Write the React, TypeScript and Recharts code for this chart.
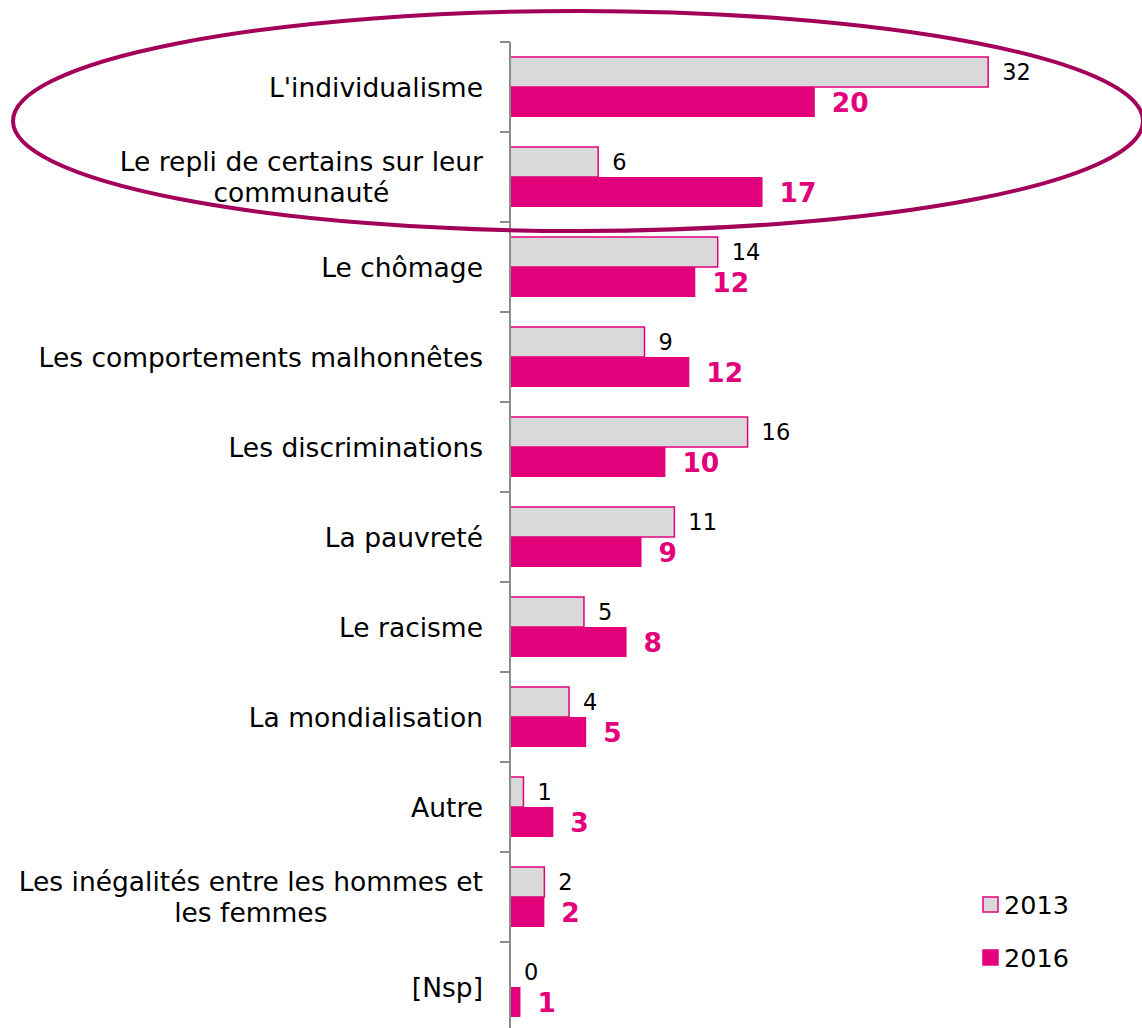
import React from "react";
import { Bar, BarChart, LabelList, XAxis, YAxis } from "recharts";

// Catégories (retour à la ligne comme dans l'original) et valeurs.
const CATEGORIES = [
  "L'individualisme",
  "Le repli de certains sur leur\ncommunauté",
  "Le chômage",
  "Les comportements malhonnêtes",
  "Les discriminations",
  "La pauvreté",
  "Le racisme",
  "La mondialisation",
  "Autre",
  "Les inégalités entre les hommes et\nles femmes",
  "[Nsp]",
];
const VALUES_2013 = [32, 5.9, 13.9, 9, 15.9, 11, 4.95, 3.95, 0.9, 2.3, 0];
const VALUES_2016 = [20.4, 16.9, 12.4, 12, 10.4, 8.8, 7.8, 5.1, 2.9, 2.3, 0.7];

const PINK = "#E3007B";
const GRAY = "#D9D9D9";
const AXIS = "#8C8C8C";
const RING = "#A3005A";
const FONT = "'DejaVu Sans', Verdana, sans-serif";

const W = 1142;
const H = 1040;
const TOP = 42;
const BOTTOM = 8;
const AXIS_X = 510;
const BAND = (H - TOP - BOTTOM) / CATEGORIES.length;

const data = CATEGORIES.map((name, i) => ({
  name,
  y2013: VALUES_2013[i],
  y2016: VALUES_2016[i],
}));

let ctx: CanvasRenderingContext2D | null = null;
function textWidth(s: string, size: number) {
  if (!ctx) ctx = document.createElement("canvas").getContext("2d");
  if (!ctx) return s.length * size * 0.6;
  ctx.font = `${size}px 'DejaVu Sans'`;
  return ctx.measureText(s).width;
}

function CategoryTick(props: any) {
  const { x, y, payload } = props;
  const lines = String(payload.value).split("\n");
  const size = 26.5;
  const w = Math.max(...lines.map((l) => textWidth(l, size)));
  const cx = x - 27 - w / 2;
  const lh = 31;
  return (
    <g>
      <line x1={x - 10} x2={x} y1={y - BAND / 2} y2={y - BAND / 2} stroke={AXIS} strokeWidth={2} />
      {lines.map((l, i) => (
        <text
          key={i}
          x={cx}
          y={y + (i - (lines.length - 1) / 2) * lh}
          textAnchor="middle"
          dominantBaseline="central"
          fontSize={size}
          fontFamily={FONT}
          fill="#000"
        >
          {l}
        </text>
      ))}
    </g>
  );
}

function ValueLabel(props: any) {
  const { x, y, width, height, value, offset, color, size, bold } = props;
  return (
    <text
      x={Number(x) + Number(width) + offset}
      y={Number(y) + Number(height) / 2}
      dominantBaseline="central"
      fill={color}
      fontSize={size}
      fontWeight={bold ? "bold" : "normal"}
      fontFamily={FONT}
    >
      {Math.round(Number(value))}
    </text>
  );
}

// Recharts ne rend pas de barre (ni d'étiquette) pour une valeur nulle :
// l'étiquette "0" de 2013 est placée au-dessus de la barre 2016 de la même catégorie.
function Label2016(p: any) {
  const zero2013 = VALUES_2013[p.index] === 0;
  return (
    <g>
      <ValueLabel {...p} offset={17} color={PINK} size={26.5} bold />
      {zero2013 && (
        <ValueLabel {...p} y={Number(p.y) - Number(p.height)} width={0} value={0} offset={14} color="#000" size={22.5} />
      )}
    </g>
  );
}

const LEGEND = [
  { label: "2013", fill: GRAY, stroke: PINK },
  { label: "2016", fill: PINK, stroke: PINK },
];

export default function App() {
  return (
    <div style={{ position: "absolute", left: 0, top: 0, width: W, height: 1028, overflow: "hidden", background: "#fff" }}>
      <BarChart
        width={W}
        height={H}
        data={data}
        layout="vertical"
        margin={{ top: TOP, right: 109, bottom: BOTTOM, left: 0 }}
        barCategoryGap={15}
        barGap={0}
      >
        <XAxis type="number" domain={[0, 35]} hide />
        <YAxis
          type="category"
          dataKey="name"
          width={AXIS_X}
          axisLine={{ stroke: AXIS, strokeWidth: 2 }}
          tickLine={false}
          tickSize={0}
          tickMargin={0}
          tick={<CategoryTick />}
          interval={0}
        />
        <Bar dataKey="y2013" name="2013" fill={GRAY} stroke={PINK} strokeWidth={1.5} isAnimationActive={false}>
          <LabelList
            dataKey="y2013"
            content={(p: any) => <ValueLabel {...p} offset={14} color="#000" size={22.5} />}
          />
        </Bar>
        <Bar dataKey="y2016" name="2016" fill={PINK} isAnimationActive={false}>
          <LabelList dataKey="y2016" content={(p: any) => <Label2016 {...p} />} />
        </Bar>
      </BarChart>
      <div style={{ position: "absolute", left: 982, top: 878, fontFamily: FONT, fontSize: 25.5 }}>
        {LEGEND.map((it) => (
          <div key={it.label} style={{ display: "flex", alignItems: "center", height: 53 }}>
            <svg width={17} height={17} style={{ marginRight: 5 }}>
              <rect x={1} y={1} width={15} height={15} fill={it.fill} stroke={it.stroke} strokeWidth={1.5} />
            </svg>
            <span>{it.label}</span>
          </div>
        ))}
      </div>
      <svg width={W} height={1028} style={{ position: "absolute", left: 0, top: 0, pointerEvents: "none" }}>
        <ellipse cx={578} cy={121} rx={565} ry={110} fill="none" stroke={RING} strokeWidth={4} />
      </svg>
    </div>
  );
}
